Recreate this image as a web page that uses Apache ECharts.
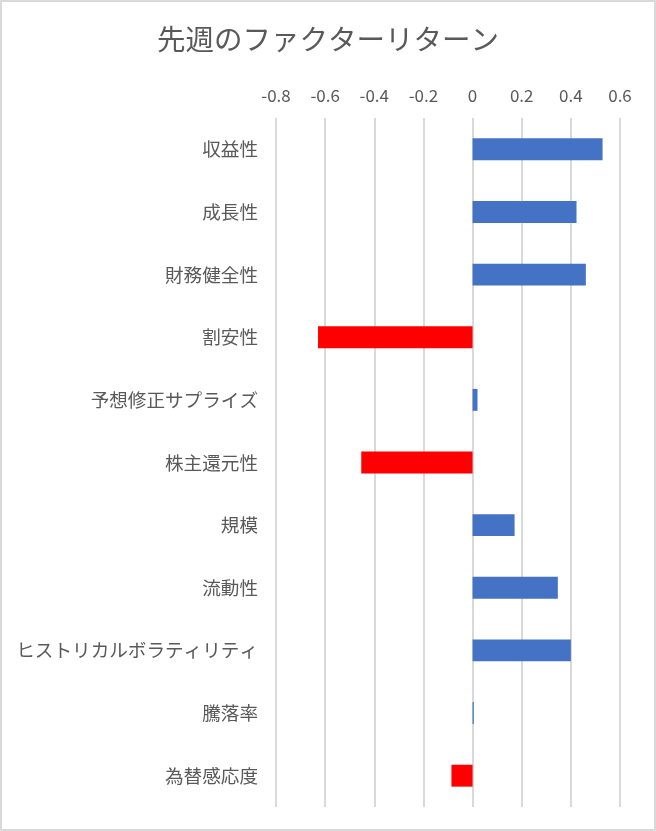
<!DOCTYPE html>
<html>
<head>
<meta charset="utf-8">
<script src="https://cdn.jsdelivr.net/npm/echarts@6/dist/echarts.min.js"></script>
<style>
html,body{margin:0;padding:0;background:#fff;}
#chart{width:656px;height:831px;}
</style>
</head>
<body>
<div id="chart"></div>
<script>
const categories = ['収益性','成長性','財務健全性','割安性','予想修正サプライズ','株主還元性','規模','流動性','ヒストリカルボラティリティ','騰落率','為替感応度'];
const values = [0.529, 0.423, 0.461, -0.629, 0.02, -0.453, 0.171, 0.347, 0.400, 0.005, -0.086];
const xTicks = {min: -0.8, max: 0.6, interval: 0.2};
const titleText = '先週のファクターリターン';

const FONT = '"Noto Sans CJK JP", "Noto Sans", sans-serif';
const chart = echarts.init(document.getElementById('chart'));
chart.setOption({
  animation: false,
  backgroundColor: '#fff',
  title: {
    text: titleText,
    left: 'center',
    top: 20,
    textStyle: {color: '#595959', fontSize: 28.5, fontWeight: 'normal', fontFamily: FONT}
  },
  grid: {left: 276, right: 36, top: 118, bottom: 24, containLabel: false},
  xAxis: {
    type: 'value',
    position: 'top',
    min: xTicks.min, max: xTicks.max, interval: xTicks.interval,
    axisLine: {show: false},
    axisTick: {show: false},
    axisLabel: {
      color: '#595959', fontSize: 17, fontFamily: FONT, margin: 14,
      formatter: v => { const r = Math.round(v * 10) / 10; return r === 0 ? '0' : String(r); }
    },
    splitLine: {show: true, lineStyle: {color: '#d9d9d9', width: 2}}
  },
  yAxis: {
    type: 'category',
    data: categories,
    inverse: true,
    axisLine: {show: false},
    axisTick: {show: false},
    axisLabel: {color: '#595959', fontSize: 18.6, fontFamily: FONT, margin: 18}
  },
  series: [{
    type: 'bar',
    data: values,
    barWidth: '35%',
    itemStyle: {color: p => p.value < 0 ? '#FF0000' : '#4472C4'}
  }],
  graphic: [{
    type: 'rect',
    shape: {x: 1, y: 1, width: 654, height: 829},
    style: {fill: 'none', stroke: '#d9d9d9', lineWidth: 2},
    silent: true
  }]
});
</script>
</body>
</html>
